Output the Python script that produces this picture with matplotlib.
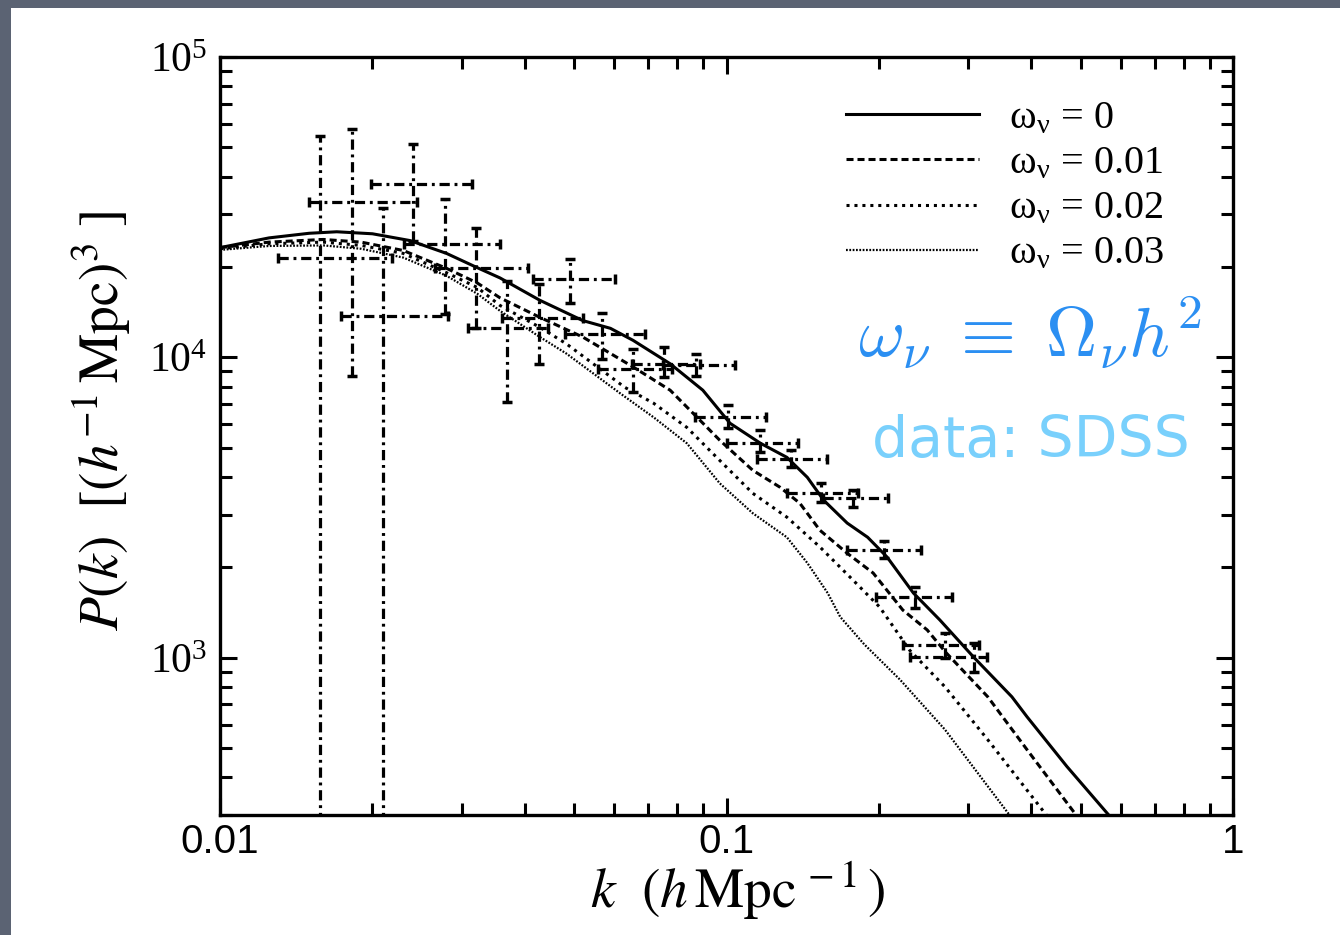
import numpy as np
import matplotlib
matplotlib.use('Agg')
import matplotlib.pyplot as plt
from matplotlib.patches import Rectangle
from matplotlib.ticker import LogLocator, NullFormatter

plt.rcParams['font.family'] = ['Liberation Serif', 'DejaVu Serif']
plt.rcParams['mathtext.fontset'] = 'stix'

# --- model curves P(k) ---
k_nu0 = [0.0100, 0.0125, 0.0150, 0.0170, 0.0200, 0.0237, 0.0280, 0.0322, 0.0357, 0.0428,
         0.0520, 0.0590, 0.0654, 0.0774, 0.0898, 0.1016, 0.1167, 0.1316, 0.1444, 0.1555,
         0.1731, 0.1900, 0.2075, 0.2339, 0.2638, 0.3072, 0.3660, 0.3920, 0.4700, 0.5626, 0.6000]
P_nu0 = [23200, 25000, 25900, 26200, 25800, 24500, 22200, 19900, 18400, 15500,
         13270, 12500, 11400, 9530, 7780, 6040, 5180, 4650, 3990, 3350,
         2810, 2520, 2166, 1644, 1337, 1008, 742, 637, 435, 306, 270]

k_nu1 = [0.0100, 0.0125, 0.0160, 0.0190, 0.0230, 0.0280, 0.0322, 0.0357, 0.0428, 0.0520,
         0.0654, 0.0774, 0.0859, 0.0970, 0.1127, 0.1275, 0.1396, 0.1529, 0.1731, 0.1948,
         0.2229, 0.2490, 0.2700, 0.3280, 0.3920, 0.4900, 0.5200]
P_nu1 = [23200, 24200, 24700, 24200, 22700, 19800, 17700, 15800, 13600, 11700,
         9300, 7780, 6520, 5300, 4210, 3700, 3270, 2660, 2230, 1916,
         1443, 1239, 1050, 742, 495, 300, 272]

k_nu2 = [0.0100, 0.0125, 0.0160, 0.0190, 0.0230, 0.0280, 0.0322, 0.0357, 0.0428, 0.0483,
         0.0630, 0.0718, 0.0835, 0.0970, 0.1127, 0.1316, 0.1529, 0.1777, 0.2006, 0.2300,
         0.2700, 0.3280, 0.4280, 0.4500]
P_nu2 = [23000, 23900, 24200, 23600, 22200, 19150, 17100, 14900, 12600, 11100,
         7950, 7040, 5850, 4540, 3530, 2940, 2340, 1816, 1477, 1060,
         801, 534, 300, 275]

k_nu3 = [0.0100, 0.0125, 0.0160, 0.0190, 0.0230, 0.0280, 0.0322, 0.0357, 0.0428, 0.0483,
         0.0617, 0.0718, 0.0835, 0.0970, 0.1127, 0.1316, 0.1444, 0.1584, 0.1677, 0.1870,
         0.2203, 0.2700, 0.3620, 0.3800]
P_nu3 = [22800, 23500, 23600, 23000, 21500, 18700, 16300, 14300, 11700, 10300,
         7590, 6320, 5180, 3810, 3030, 2520, 2070, 1644, 1369, 1110,
         845, 577, 300, 275]

curve_labels = [r'ω$_\mathdefault{ν}$ = 0', r'ω$_\mathdefault{ν}$ = 0.01',
                r'ω$_\mathdefault{ν}$ = 0.02', r'ω$_\mathdefault{ν}$ = 0.03']

# --- SDSS band powers ---
data_k = [0.01576, 0.0182, 0.0210, 0.0240, 0.0278, 0.0320, 0.0369, 0.0427, 0.0491, 0.0567, 0.0654,
          0.0752, 0.0872, 0.1007, 0.1167, 0.1343, 0.1537, 0.1778, 0.2048, 0.2354, 0.2697, 0.3085]
data_P = [21500, 33000, 13700, 37900, 23900, 19800, 12500, 13500, 18200, 12000, 9180,
          9530, 9460, 6320, 5210, 4580, 3530, 3400, 2285, 1595, 1104, 1008]
k_lo = [0.01302, 0.01499, 0.01734, 0.01987, 0.0231, 0.0266, 0.0309, 0.0361, 0.0415, 0.0480, 0.0558,
        0.0652, 0.0750, 0.0866, 0.1000, 0.1151, 0.1317, 0.1548, 0.1727, 0.1974, 0.2227, 0.2308]
k_hi = [0.0219, 0.0245, 0.0282, 0.0314, 0.0357, 0.0405, 0.0444, 0.0521, 0.0602, 0.0690, 0.0780,
        0.0887, 0.1039, 0.1197, 0.1381, 0.1581, 0.1821, 0.2085, 0.2426, 0.2788, 0.3150, 0.3271]
P_lo = [10, 8660, 10, 24500, 14000, 12500, 7100, 9500, 15200, 9900, 7650,
        8600, 8660, 5810, 4840, 4310, 3300, 3175, 2146, 1466, 1000, 899]
P_hi = [54500, 57600, 31500, 51400, 33800, 26900, 17900, 17600, 21200, 14100, 10700,
        10800, 10300, 6930, 5720, 4910, 3810, 3610, 2445, 1720, 1211, 1122]

fig = plt.figure(figsize=(13.4, 9.35), dpi=100, facecolor='#5b6373')
fig.patches.append(Rectangle((11 / 1340, 0), 1, 1 - 8 / 935, transform=fig.transFigure,
                             facecolor='white', edgecolor='none', zorder=-10))
ax = fig.add_axes([220 / 1340, 1 - 815 / 935, 1013 / 1340, 758 / 935])
ax.set_facecolor('white')

ax.plot(k_nu0, P_nu0, color='black', lw=2.2, ls='-', label=curve_labels[0])
ax.plot(k_nu1, P_nu1, color='black', lw=2.2, ls=(0, (2.3, 1.3)), label=curve_labels[1])
ax.plot(k_nu2, P_nu2, color='black', lw=2.2, ls=(0, (1.0, 1.6)), label=curve_labels[2])
ax.plot(k_nu3, P_nu3, color='black', lw=1.6, ls=(0, (0.8, 0.7)), label=curve_labels[3])

dk = np.array(data_k)
dP = np.array(data_P)
xerr = [dk - np.array(k_lo), np.array(k_hi) - dk]
yerr = [dP - np.array(P_lo), np.array(P_hi) - dP]
eb = ax.errorbar(data_k, data_P, xerr=xerr, yerr=yerr, fmt='none', ecolor='black',
                 elinewidth=2.3, capsize=3.5, capthick=2.5)
for lc in eb[2]:
    lc.set_linestyle((0, (3.2, 1.5, 0.9, 1.5)))

ax.set_xscale('log')
ax.set_yscale('log')
ax.set_xlim(0.01, 1)
ax.set_ylim(300, 1e5)

ax.set_xticks([0.01, 0.1, 1])
ax.set_xticklabels(['0.01', '0.1', '1'], fontfamily='Liberation Sans')
ax.xaxis.set_minor_locator(LogLocator(base=10, subs=np.arange(2, 10)))
ax.xaxis.set_minor_formatter(NullFormatter())
ax.yaxis.set_major_locator(LogLocator(base=10))
ax.yaxis.set_minor_locator(LogLocator(base=10, subs=np.arange(2, 10)))
ax.yaxis.set_minor_formatter(NullFormatter())

ax.tick_params(which='both', direction='in', top=True, right=True, width=2.2)
ax.tick_params(which='major', length=12)
ax.tick_params(which='minor', length=8.5)
ax.tick_params(axis='x', which='major', pad=6, labelsize=29)
ax.tick_params(axis='y', which='major', pad=9, labelsize=30)
for sp in ax.spines.values():
    sp.set_linewidth(2.4)

ax.set_xlabel(r'$k\ \ (h\,\mathrm{Mpc}^{\,-1}\,)$', fontsize=40)
ax.xaxis.set_label_coords(0.511, -0.058)
ax.set_ylabel(r'$P(k)\ \ [(h^{-1}\,\mathrm{Mpc})^{3}\ ]$', fontsize=40)
ax.yaxis.set_label_coords(-0.086, 0.52)

ax.legend(loc='upper left', bbox_to_anchor=(846 / 1340, 1 - 100 / 935), bbox_transform=fig.transFigure,
          frameon=False, fontsize=29, handlelength=3.3, handletextpad=0.75, labelspacing=0.2,
          borderpad=0, borderaxespad=0)

ax.text(0.80, 0.604, r'$\omega_\nu\;\equiv\;\Omega_\nu h^2$', transform=ax.transAxes,
        ha='center', va='baseline', fontsize=51, color='#2b8ff2', math_fontfamily='cm')
ax.text(0.80, 0.472, 'data: SDSS', transform=ax.transAxes, ha='center', va='baseline',
        fontsize=41, color='#79d0fc', fontfamily='DejaVu Sans')

fig.savefig('out.png', dpi=100, facecolor=fig.get_facecolor())
